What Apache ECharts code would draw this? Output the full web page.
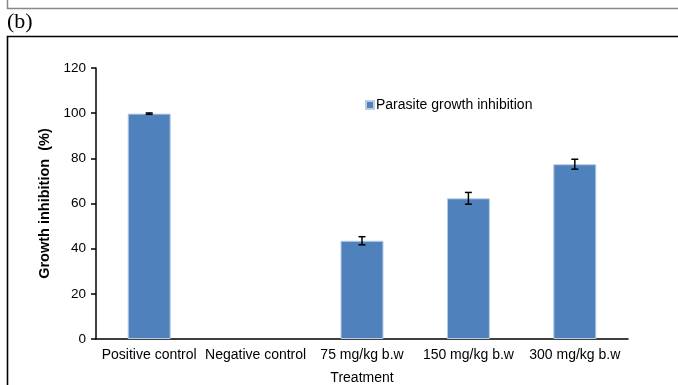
<!DOCTYPE html>
<html>
<head>
<meta charset="utf-8">
<script src="https://cdn.jsdelivr.net/npm/echarts@6/dist/echarts.min.js"></script>
<style>
  html, body { margin: 0; padding: 0; background: #fff; }
  #chart { width: 678px; height: 385px; }
</style>
</head>
<body>
<div id="chart"></div>
<script>
// Treatment groups on the category axis
const treatments = ['Positive control', 'Negative control', '75 mg/kg b.w', '150 mg/kg b.w', '300 mg/kg b.w'];
// Mean parasite growth inhibition (%) per group (negative control has no bar)
const inhibition = [99.8, null, 43.5, 62.3, 77.4];
// Standard error of each mean
const stdError = [0.3, null, 1.8, 2.6, 2.2];
// Value axis range and step
const yMin = 0, yMax = 120, yStep = 20;

const barColor = '#4F81BD';
const font = '"Liberation Sans", Arial, sans-serif';

const errorData = treatments.map((t, i) =>
  inhibition[i] == null ? [i, null, null] : [i, inhibition[i] - stdError[i], inhibition[i] + stdError[i]]
);

const chart = echarts.init(document.getElementById('chart'), null, { renderer: 'canvas' });

chart.setOption({
  animation: false,
  backgroundColor: '#fff',
  grid: { left: 96, right: 50, top: 68, bottom: 46, outerBoundsMode: 'none', containLabel: false },
  legend: {
    left: 360, top: 93,
    itemWidth: 8, itemHeight: 8, itemGap: 4,
    icon: 'rect',
    data: ['Parasite growth inhibition'],
    textStyle: { fontFamily: font, fontSize: 14, color: '#000', padding: [0, 0, 0, -3] }
  },
  xAxis: {
    type: 'category',
    data: treatments,
    name: 'Treatment',
    nameLocation: 'middle',
    nameGap: 32,
    nameTextStyle: { fontFamily: font, fontSize: 14, color: '#000' },
    axisLine: { lineStyle: { color: '#000', width: 1.5 } },
    axisTick: { show: false },
    axisLabel: { fontFamily: font, fontSize: 14, color: '#000', margin: 9, interval: 0 }
  },
  yAxis: {
    type: 'value',
    min: yMin, max: yMax, interval: yStep,
    name: 'Growth inhibition  (%)',
    nameLocation: 'middle',
    nameRotate: 90,
    nameGap: 36,
    nameTextStyle: { fontFamily: font, fontSize: 14.5, fontWeight: 'bold', color: '#000' },
    axisLine: { show: true, lineStyle: { color: '#000', width: 1.5 } },
    axisTick: { show: true, inside: false, length: 5, lineStyle: { color: '#000', width: 1.5 } },
    axisLabel: { fontFamily: font, fontSize: 13.5, color: '#000', margin: 10 },
    splitLine: { show: false }
  },
  series: [
    {
      name: 'Parasite growth inhibition',
      type: 'bar',
      data: inhibition,
      barWidth: 43,
      itemStyle: { color: barColor, borderColor: '#B9CDE5', borderWidth: 1 }
    },
    {
      name: 'error',
      type: 'custom',
      data: errorData,
      z: 10,
      renderItem: function (params, api) {
        const lo = api.value(1), hi = api.value(2);
        if (lo == null || hi == null || isNaN(lo) || isNaN(hi)) return null;
        const p1 = api.coord([api.value(0), hi]);
        const p2 = api.coord([api.value(0), lo]);
        const half = 3.5;
        const style = { stroke: '#000', lineWidth: 1.5 };
        return {
          type: 'group',
          children: [
            { type: 'line', shape: { x1: p1[0], y1: p1[1], x2: p2[0], y2: p2[1] }, style },
            { type: 'line', shape: { x1: p1[0] - half, y1: p1[1], x2: p1[0] + half, y2: p1[1] }, style },
            { type: 'line', shape: { x1: p2[0] - half, y1: p2[1], x2: p2[0] + half, y2: p2[1] }, style }
          ]
        };
      }
    }
  ],
  graphic: [
    // frame of the panel above
    { type: 'polyline', shape: { points: [[7.5, 0], [7.5, 8.5], [678, 8.5]] }, style: { stroke: '#888', lineWidth: 1.5, fill: null } },
    // panel label
    { type: 'text', left: 7, top: 11, style: { text: '(b)', font: '22px "Liberation Serif", "Times New Roman", serif', fill: '#000' } },
    // frame of this panel
    { type: 'polyline', shape: { points: [[7.5, 385], [7.5, 36.5], [678, 36.5]] }, style: { stroke: '#000', lineWidth: 1.6, fill: null } }
  ]
});
</script>
</body>
</html>
